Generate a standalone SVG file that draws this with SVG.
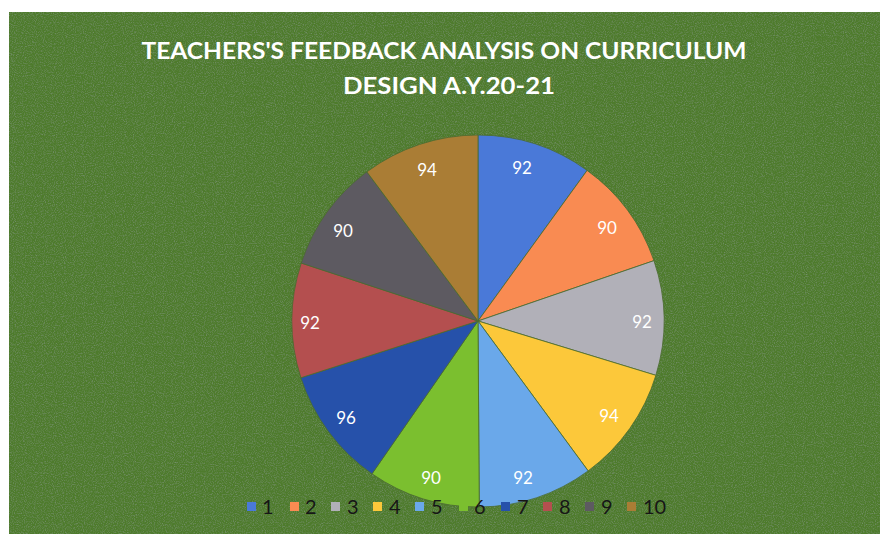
<svg xmlns="http://www.w3.org/2000/svg" width="880" height="534" viewBox="0 0 880 534">
  <defs>
    <filter id="grain" x="0" y="0" width="100%" height="100%">
      <feTurbulence type="fractalNoise" baseFrequency="0.9" numOctaves="2" seed="3" result="n"/>
      <feColorMatrix in="n" type="matrix" values="0 0 0 0 0.35  0 0 0 0 0.38  0 0 0 0 0.45  0 0 0 -2.2 1.25" result="s"/>
      <feComposite in="s" in2="SourceGraphic" operator="in"/>
    </filter>
    <style>
      .title { font-family: "Lato", "Liberation Sans", sans-serif; font-weight: bold; font-size: 22px; fill: #ffffff; text-anchor: middle; }
      .val { font-family: "Lato", "Liberation Sans", sans-serif; font-size: 17px; fill: #ffffff; text-anchor: middle; }
      .leg { font-family: "Lato", "Liberation Sans", sans-serif; font-size: 20px; fill: #161616; }
      .slice { stroke: #4a6b30; stroke-width: 0.8; stroke-linejoin: round; }
    </style>
  </defs>

  <rect x="0" y="0" width="880" height="534" fill="#ffffff"/>
  <rect x="9" y="12" width="871" height="522" fill="#4e7b2c"/>
  <rect x="9" y="12" width="871" height="522" fill="#4e7b2c" filter="url(#grain)" opacity="0.45"/>

  <g id="title">
    <text class="title" x="444" y="59" textLength="605" lengthAdjust="spacingAndGlyphs">TEACHERS'S FEEDBACK ANALYSIS ON CURRICULUM</text>
    <text class="title" x="449" y="94" textLength="212" lengthAdjust="spacingAndGlyphs">DESIGN A.Y.20-21</text>
  </g>

  <g id="pie">
    <g id="slice1"><path class="slice" fill="#4a79d8" d="M478,321 L478,135 A186,186 0 0 1 587.13,170.38 Z"/><text class="val" x="522" y="174">92</text></g>
    <g id="slice2"><path class="slice" fill="#f98b52" d="M478,321 L587.13,170.38 A186,186 0 0 1 653.94,260.64 Z"/><text class="val" x="607" y="234">90</text></g>
    <g id="slice3"><path class="slice" fill="#b1b0b8" d="M478,321 L653.94,260.64 A186,186 0 0 1 655.89,375.33 Z"/><text class="val" x="642" y="328">92</text></g>
    <g id="slice4"><path class="slice" fill="#fcc83a" d="M478,321 L655.89,375.33 A186,186 0 0 1 588.15,470.88 Z"/><text class="val" x="609" y="422">94</text></g>
    <g id="slice5"><path class="slice" fill="#6aa8ea" d="M478,321 L588.15,470.88 A186,186 0 0 1 479.27,507 Z"/><text class="val" x="523" y="484">92</text></g>
    <g id="slice6"><path class="slice" fill="#7bbf2f" d="M478,321 L479.27,507 A186,186 0 0 1 371.98,473.82 Z"/><text class="val" x="431" y="484">90</text></g>
    <g id="slice7"><path class="slice" fill="#2651aa" d="M478,321 L371.98,473.82 A186,186 0 0 1 300.87,377.75 Z"/><text class="val" x="346" y="424">96</text></g>
    <g id="slice8"><path class="slice" fill="#b44f4f" d="M478,321 L300.87,377.75 A186,186 0 0 1 301.26,263.04 Z"/><text class="val" x="310" y="329">92</text></g>
    <g id="slice9"><path class="slice" fill="#5d5a61" d="M478,321 L301.26,263.04 A186,186 0 0 1 366.85,171.85 Z"/><text class="val" x="343" y="237">90</text></g>
    <g id="slice10"><path class="slice" fill="#aa7d35" d="M478,321 L366.85,171.85 A186,186 0 0 1 478,135 Z"/><text class="val" x="427" y="176">94</text></g>
  </g>

  <g id="legend">
    <rect x="247" y="502" width="9" height="9" fill="#4a79d8"/><text class="leg" x="262" y="514">1</text>
    <rect x="290" y="502" width="9" height="9" fill="#f98b52"/><text class="leg" x="305" y="514">2</text>
    <rect x="331" y="502" width="9" height="9" fill="#b1b0b8"/><text class="leg" x="347" y="514">3</text>
    <rect x="373" y="502" width="9" height="9" fill="#fcc83a"/><text class="leg" x="389" y="514">4</text>
    <rect x="415" y="502" width="9" height="9" fill="#6aa8ea"/><text class="leg" x="431" y="514">5</text>
    <rect x="459" y="502" width="9" height="9" fill="#7bbf2f"/><text class="leg" x="474" y="514">6</text>
    <rect x="501" y="502" width="9" height="9" fill="#2651aa"/><text class="leg" x="517" y="514">7</text>
    <rect x="543" y="502" width="9" height="9" fill="#b44f4f"/><text class="leg" x="559" y="514">8</text>
    <rect x="585" y="502" width="9" height="9" fill="#5d5a61"/><text class="leg" x="601" y="514">9</text>
    <rect x="627" y="502" width="9" height="9" fill="#aa7d35"/><text class="leg" x="643" y="514">10</text>
  </g>
</svg>
